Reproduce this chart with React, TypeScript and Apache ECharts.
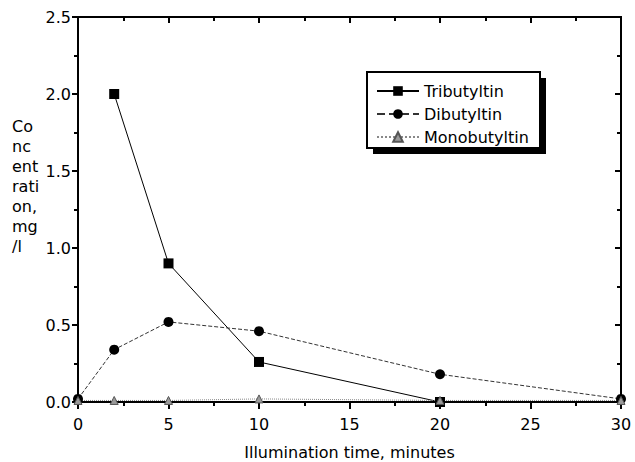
import React, { useEffect, useRef } from "react";
import * as echarts from "echarts";

const tbtTimes = [2, 5, 10, 20];
const tbtValues = [2.0, 0.9, 0.26, 0.0];
const allTimes = [0, 2, 5, 10, 20, 30];
const dbtValues = [0.02, 0.34, 0.52, 0.46, 0.18, 0.02];
const mbtValues = [0.01, 0.01, 0.01, 0.02, 0.01, 0.01];
const seriesNames = ["Tributyltin", "Dibutyltin", "Monobutyltin"];
const yAxisTitle = "Co\nnc\nent\nrati\non,\nmg\n/l";
const xAxisTitle = "Illumination time, minutes";

const FONT = "DejaVu Sans";

function axisX(top: boolean) {
  return {
    type: "value", min: 0, max: 30, interval: 5,
    position: top ? "top" : "bottom",
    axisLine: { show: true, onZero: false, lineStyle: { color: "black", width: 2, type: "solid" } },
    axisTick: { show: true, inside: top, length: top ? 6 : 7, lineStyle: { color: "black", width: 2, type: "solid" } },
    minorTick: { show: true, splitNumber: 2, length: 4, lineStyle: { color: "black", width: 2, type: "solid" } },
    splitLine: { show: false },
    axisLabel: top ? { show: false } : { color: "black", fontSize: 16, fontFamily: FONT, margin: 14 },
    ...(top ? {} : {
      name: xAxisTitle, nameLocation: "middle", nameGap: 42,
      nameTextStyle: { color: "black", fontSize: 16, fontFamily: FONT },
    }),
  };
}
function axisY(right: boolean) {
  return {
    type: "value", min: 0, max: 2.5, interval: 0.5,
    position: right ? "right" : "left",
    axisLine: { show: true, onZero: false, lineStyle: { color: "black", width: 2, type: "solid" } },
    axisTick: { show: true, inside: right, length: 6, lineStyle: { color: "black", width: 2, type: "solid" } },
    minorTick: { show: true, splitNumber: 2, length: 4, lineStyle: { color: "black", width: 2, type: "solid" } },
    splitLine: { show: false },
    axisLabel: right ? { show: false } : { color: "black", fontSize: 16, fontFamily: FONT, margin: 7, formatter: (v: number) => v.toFixed(1) },
  };
}

export default function App() {
  const ref = useRef<HTMLDivElement>(null);
  useEffect(() => {
    if (!ref.current) return;
    const chart = echarts.init(ref.current, null, { renderer: "svg" });
    const pair = (xs: number[], ys: number[]) => xs.map((x, i) => [x, ys[i]]);
    chart.setOption({
      animation: false,
      grid: { left: 78, right: 14, top: 17, bottom: 60, outerBoundsMode: "none" },
      xAxis: [axisX(false), axisX(true)],
      yAxis: [axisY(false), axisY(true)],
      legend: {
        orient: "vertical", left: 371, top: 78, itemGap: 7,
        itemWidth: 42, itemHeight: 12,
        textStyle: { color: "black", fontSize: 16, fontFamily: FONT },
        data: seriesNames, z: 10,
      },
      graphic: [
        {
          type: "rect", z: 0, silent: true,
          shape: { x: 78, y: 17, width: 543, height: 385 },
          style: { fill: "none", stroke: "black", lineWidth: 2 },
        },
        { type: "rect", z: 5, shape: { x: 373, y: 78, width: 173, height: 76 }, style: { fill: "black" } },
        { type: "rect", z: 6, shape: { x: 367, y: 72, width: 173, height: 76 }, style: { fill: "white", stroke: "black", lineWidth: 2 } },
        {
          type: "text", left: 12, top: 116, z: 6,
          style: { text: yAxisTitle, fill: "black", font: `16px "${FONT}"`, lineHeight: 20 },
        },
      ],
      series: [
        {
          name: seriesNames[0], type: "line", data: pair(tbtTimes, tbtValues), xAxisIndex: 0, yAxisIndex: 0,
          symbol: "rect", symbolSize: 10,
          itemStyle: { color: "black" },
          lineStyle: { color: "black", width: 1, type: "solid" },
        },
        {
          name: seriesNames[1], type: "line", data: pair(allTimes, dbtValues), xAxisIndex: 0, yAxisIndex: 0,
          symbol: "circle", symbolSize: 10,
          itemStyle: { color: "black" },
          lineStyle: { color: "#333", width: 1, type: "dashed" },
        },
        {
          name: seriesNames[2], type: "line", data: pair(allTimes, mbtValues), xAxisIndex: 0, yAxisIndex: 0,
          symbol: "triangle", symbolSize: 8,
          itemStyle: { color: "#9a9a9a", borderColor: "#555", borderWidth: 1 },
          lineStyle: { color: "#888", width: 1, type: "dotted" },
        },
      ],
    });
    return () => chart.dispose();
  }, []);
  return <div ref={ref} style={{ width: 635, height: 462, position: "absolute", left: 0, top: 0 }} />;
}
